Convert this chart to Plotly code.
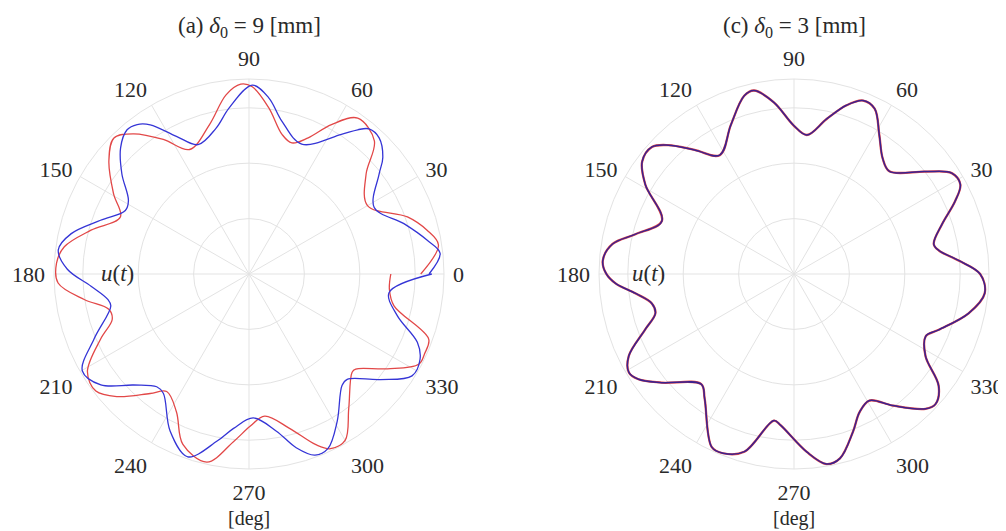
import plotly.graph_objects as go

# ---------------- data ----------------
angle_ticks = [0, 30, 60, 90, 120, 150, 180, 210, 240, 270, 300, 330]
angle_labels = [str(a) for a in angle_ticks]

# (a) delta0 = 9 mm  -- blue series
a_blue_theta = [0, 6.2, 10.8, 18, 28, 37.5, 41, 46.3, 50.4, 53, 56.5, 67.9, 77.8, 83.6, 89,
                96.8, 102.7, 111.5, 117.8, 123.5, 126.8, 130.2, 135.5, 141.8, 148.6, 152.8,
                160.1, 167.2, 172.8, 178.5, 184.4, 190.2, 193, 202.7, 210.2, 216.8, 223.9,
                230.7, 234.3, 243.3, 251.5, 259.2, 264.3, 271.7, 279.9, 285.2, 290, 294.3,
                300.9, 309.9, 313, 321.2, 328, 333.5, 337.9, 344.3, 352.4, 360]
a_blue_r = [3.25, 3.47, 3.27, 2.94, 2.56, 2.96, 3.2, 3.4, 3.4, 3.26, 3.02, 2.53, 2.82, 3.2, 3.41,
            3.02, 2.7, 2.51, 2.81, 3.23, 3.37, 3.41, 3.25, 2.92, 2.55, 2.51,
            2.85, 3.29, 3.47, 3.28, 2.86, 2.59, 2.56, 3.03, 3.48, 3.34, 2.89,
            2.63, 2.65, 3.17, 3.48, 3.07, 2.8, 2.6, 2.88, 3.25, 3.48, 3.46,
            3.1, 2.62, 2.6, 3.04, 3.47, 3.45, 3.28, 2.78, 2.55, 3.3]

# (a) delta0 = 9 mm  -- red series
a_red_theta = [0, 8.7, 13.8, 19.8, 30, 40.5, 46.7, 55.1, 61.1, 66.5, 71.9, 76.7, 83.2, 89, 92.5,
               97.3, 104.8, 115.5, 122.5, 129.5, 134.8, 141.1, 149.4, 156.1, 164.5, 171.6,
               176.8, 182.7, 188.8, 194.1, 198.3, 203.6, 211.2, 217.4, 222.9, 230.4, 235,
               242.2, 248.8, 257.4, 264.7, 270.4, 276.3, 284.7, 291.4, 295, 300, 306.6,
               316.4, 318.3, 325.6, 332, 335.6, 340.1, 347.6, 353.7, 360]
a_red_r = [3.1, 3.46, 3.31, 3.04, 2.47, 2.78, 3.3, 3.43, 3.08, 2.68, 2.49, 2.59, 3.02, 3.38, 3.43,
           3.26, 2.79, 2.49, 2.88, 3.28, 3.46, 3.25, 2.84, 2.54, 2.96, 3.37,
           3.48, 3.45, 3.01, 2.61, 2.6, 2.92, 3.41, 3.48, 3.25, 2.8, 2.59,
           2.81, 3.3, 3.48, 3.04, 2.75, 2.58, 2.88, 3.31, 3.48, 3.47, 3.02,
           2.57, 2.58, 3.03, 3.47, 3.48, 3.45, 2.68, 2.55, 2.56]

# (c) delta0 = 3 mm  -- both series (they overlap)
c_theta = [0, 4.7, 9.2, 12.1, 18.6, 24.3, 28.3, 32.6, 37.9, 47.1, 52.5, 58.4, 64, 68.3, 72.7,
           78.1, 84.7, 90.1, 96.7, 102.3, 105.6, 113, 122, 128.7, 134.3, 138.2, 143.5, 149,
           158.1, 165.9, 170.6, 176, 179.9, 183.1, 187, 191.7, 195.8, 200.5, 206.4, 210.8,
           214.1, 219.4, 229.9, 234.4, 244.6, 248.4, 254.4, 262.2, 264.9, 274.1, 279.7, 284,
           290.5, 295.4, 300.8, 306.9, 314.3, 317.4, 322.3, 328, 334.7, 338.9, 347.3, 354.2, 360]
c_red_r = [3.36, 2.98, 2.65, 2.58, 2.82, 3.19, 3.41, 3.38, 3.01, 2.53, 2.63, 2.94, 3.32, 3.37, 3.19,
           2.86, 2.52, 2.68, 3.12, 3.39, 3.34, 2.92, 2.53, 2.87, 3.25, 3.44, 3.41, 3.13,
           2.57, 2.95, 3.32, 3.46, 3.39, 3.22, 2.88, 2.62, 2.6, 2.87, 3.33, 3.47,
           3.39, 3.09, 2.6, 2.77, 3.46, 3.48, 3.33, 2.67, 2.74, 3.22, 3.48, 3.43,
           3.04, 2.76, 2.66, 2.97, 3.4, 3.47, 3.3, 2.8, 2.63, 2.8, 3.23, 3.46, 3.36]
c_blue_r = [3.36, 2.98, 2.65, 2.58, 2.82, 3.19, 3.41, 3.38, 3.01, 2.53, 2.63, 2.94, 3.32, 3.37, 3.19,
            2.86, 2.52, 2.68, 3.12, 3.39, 3.34, 2.92, 2.53, 2.87, 3.25, 3.44, 3.41, 3.13,
            2.57, 2.95, 3.32, 3.46, 3.39, 3.22, 2.88, 2.62, 2.6, 2.87, 3.33, 3.47,
            3.39, 3.09, 2.6, 2.77, 3.46, 3.48, 3.33, 2.67, 2.74, 3.22, 3.48, 3.43,
            3.04, 2.76, 2.66, 2.97, 3.4, 3.47, 3.3, 2.8, 2.63, 2.8, 3.23, 3.46, 3.36]

ring_ticks = [1, 2, 3]
r_max = 3.52

# ---------------- styling ----------------
W, H = 1006, 531
OFF = 8  # page body margin offset in the browser
BLUE = "#3535d6"
RED = "#e24848"
GRID = "#e3e3e3"
TXT = "#2a2a2a"
FONT = "Liberation Serif"

fig = go.Figure()


def add_line(theta, r, color, width, subplot, opacity=1.0):
    fig.add_trace(go.Scatterpolar(
        theta=theta, r=r, mode="lines",
        line=dict(color=color, width=width, shape="spline", smoothing=1.0),
        opacity=opacity, subplot=subplot, showlegend=False, hoverinfo="skip"))


add_line(a_red_theta, a_red_r, RED, 1.3, "polar")
add_line(a_blue_theta, a_blue_r, BLUE, 1.3, "polar")
add_line(c_theta, c_red_r, RED, 2.3, "polar2")
add_line(c_theta, c_blue_r, "#3a2290", 1.5, "polar2")


def polar_layout(cx, cy, rad):
    cx, cy = cx - OFF, cy - OFF
    x0, x1 = (cx - rad) / W, (cx + rad) / W
    y0, y1 = (H - cy - rad) / H, (H - cy + rad) / H
    return dict(
        domain=dict(x=[x0, x1], y=[y0, y1]),
        bgcolor="white",
        radialaxis=dict(range=[0, r_max], tickvals=ring_ticks, showticklabels=False,
                        ticks="", showline=False, gridcolor=GRID, gridwidth=1),
        angularaxis=dict(tickmode="array", tickvals=angle_ticks, ticktext=angle_labels,
                         ticks="outside", ticklen=4, tickcolor="rgba(0,0,0,0)",
                         showline=True, linecolor=GRID, linewidth=1,
                         gridcolor=GRID, gridwidth=1, rotation=0, direction="counterclockwise",
                         tickfont=dict(family=FONT, size=22, color=TXT)),
    )


fig.update_layout(
    width=W, height=H,
    margin=dict(l=0, r=0, t=0, b=0),
    paper_bgcolor="white", plot_bgcolor="white",
    polar=polar_layout(249, 274, 195),
    polar2=polar_layout(794, 274, 195),
    showlegend=False,
)

annos = [
    ("(a) <i>δ</i><sub>0</sub> = 9 [mm]", 249, 27, 23),
    ("(c) <i>δ</i><sub>0</sub> = 3 [mm]", 794, 27, 23),
    ("[deg]", 249, 518, 20),
    ("[deg]", 794, 518, 20),
    ("<i>u</i>(<i>t</i>)", 117, 273, 23),
    ("<i>u</i>(<i>t</i>)", 648, 273, 23),
]
for txt, px, py, fs in annos:
    fig.add_annotation(text=txt, x=(px - OFF) / W, y=1 - (py - OFF) / H,
                       xref="paper", yref="paper",
                       xanchor="center", yanchor="middle", showarrow=False,
                       font=dict(family=FONT, size=fs, color=TXT))

fig.write_html("out.html")
